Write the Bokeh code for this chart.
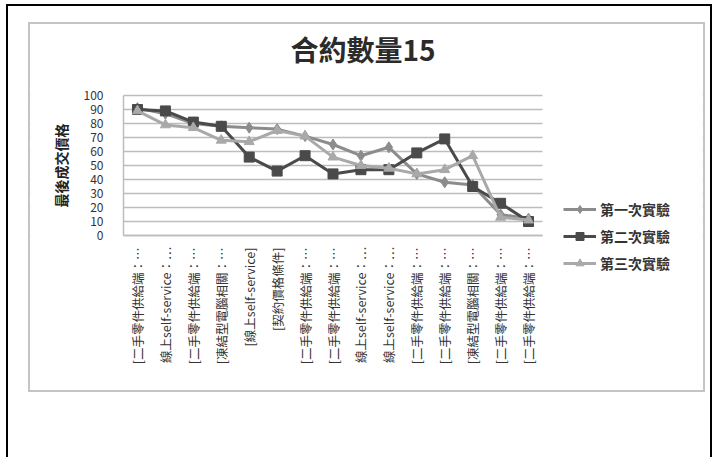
import math
from bokeh.plotting import figure
from bokeh.models import (Legend, LegendItem, FixedTicker, Range1d, Title, Label,
                          InlineStyleSheet, BoxAnnotation)
from bokeh.embed import file_html
from bokeh.resources import INLINE

# ---- data ----
categories = [
    "[二手零件供給端：…", "線上self-service：…", "[二手零件供給端：…", "[凍結型電腦相關：…",
    "[線上self-service]", "[契約價格條件]", "[二手零件供給端：…", "[二手零件供給端：…",
    "線上self-service：…", "線上self-service：…", "[二手零件供給端：…", "[二手零件供給端：…",
    "[凍結型電腦相關：…", "[二手零件供給端：…", "[二手零件供給端：…",
]
series_names = ["第一次實驗", "第二次實驗", "第三次實驗"]
s1 = [91, 87, 80, 78, 77, 76, 71, 65, 57, 63, 44, 38, 36, 15, 12]
s2 = [90, 89, 81, 78, 56, 46, 57, 44, 47, 47, 59, 69, 35, 23, 10]
s3 = [89, 79, 77, 68, 67, 75, 71, 56, 50, 48, 44, 47, 57, 13, 11]
y_ticks = [0, 10, 20, 30, 40, 50, 60, 70, 80, 90, 100]
title_text = "合約數量15"
y_title = "最後成交價格"

FONT = "Noto Sans CJK TC"
n = len(categories)
xs = list(range(1, n + 1))

# ---- layout in pixels ----
W, H = 713, 457
plot_left, plot_right = 123, 542      # category area
plot_top, plot_zero = 95, 235         # y=100 and y=0 lines
frame_left, frame_right, frame_top, frame_bottom = 30, 702, 85, 392
ytitle_px = 60
legend_left, legend_bottom = 563, 273

ppx = (plot_right - plot_left) / n
ppy = (plot_zero - plot_top) / 100.0
x_start = 0.5 - (plot_left - frame_left) / ppx
x_end = 0.5 + (frame_right - plot_left) / ppx
y_start = -(frame_bottom - plot_zero) / ppy
y_end = 100 + (plot_top - frame_top) / ppy

p = figure(width=W, height=H, x_range=Range1d(x_start, x_end),
           y_range=Range1d(y_start, y_end), output_backend="svg", toolbar_location=None,
           min_border_left=frame_left, min_border_right=W - frame_right,
           min_border_top=frame_top, min_border_bottom=H - frame_bottom)
p.background_fill_color = "white"
p.border_fill_color = "white"
p.outline_line_color = None

p.title = Title(text=title_text, align="left", offset=290 - frame_left, text_font=FONT,
                text_font_size="28px", text_font_style="bold", text_color="#2b2b2b",
                standoff=34)

p.xgrid.grid_line_color = None
p.ygrid.ticker = FixedTicker(ticks=y_ticks)
p.ygrid.grid_line_color = "#bdbdbd"
p.ygrid.grid_line_width = 1.5

# white covers so that the gridlines span only the category area
p.add_layout(BoxAnnotation(right=0.5, fill_color="white", fill_alpha=1,
                           line_color=None, level="underlay"))
p.add_layout(BoxAnnotation(left=n + 0.5, fill_color="white", fill_alpha=1,
                           line_color=None, level="underlay"))

p.yaxis.fixed_location = 0.5
p.yaxis.bounds = (0, 100)
p.yaxis.ticker = FixedTicker(ticks=y_ticks)
p.yaxis.axis_line_color = "#bdbdbd"
p.yaxis.axis_line_width = 1.5
p.yaxis.major_tick_line_color = None
p.yaxis.minor_tick_line_color = None
p.yaxis.major_label_text_font = FONT
p.yaxis.major_label_text_font_size = "12px"
p.yaxis.major_label_text_color = "#333333"
p.yaxis.major_label_standoff = 14

p.xaxis.fixed_location = 0
p.xaxis.bounds = (0.5, n + 0.5)
p.xaxis.ticker = FixedTicker(ticks=xs)
p.xaxis.major_label_overrides = {x: c for x, c in zip(xs, categories)}
p.xaxis.major_label_orientation = math.pi / 2
p.xaxis.axis_line_color = "#bdbdbd"
p.xaxis.axis_line_width = 1.5
p.xaxis.major_tick_line_color = None
p.xaxis.minor_tick_line_color = None
p.xaxis.major_label_text_font = FONT
p.xaxis.major_label_text_font_size = "12.5px"
p.xaxis.major_label_text_color = "#333333"
p.xaxis.major_label_standoff = 6

# y-axis title
p.add_layout(Label(x=0.5 - (plot_left - ytitle_px) / ppx, y=50, text=y_title,
                   angle=math.pi / 2, text_align="center", text_baseline="middle",
                   text_font=FONT, text_font_size="14px", text_font_style="bold",
                   text_color="#222222"))

colors = ["#8c8c8c", "#4a4a4a", "#a9a9a9"]
markers = ["diamond", "square", "triangle"]
sizes = [11, 10, 10]
items = []
for name, vals, col, mk, sz in zip(series_names, [s1, s2, s3], colors, markers, sizes):
    ln = p.line(xs, vals, line_color=col, line_width=3)
    sc = p.scatter(xs, vals, marker=mk, size=sz, fill_color=col, line_color=col)
    items.append(LegendItem(label=name, renderers=[ln, sc]))

legend = Legend(items=items, location=(legend_left - frame_left, frame_bottom - legend_bottom),
                orientation="vertical",
                label_text_font=FONT, label_text_font_size="14px",
                label_text_font_style="bold", label_text_color="#333333",
                glyph_width=33, glyph_height=20, spacing=7, label_standoff=4,
                border_line_color=None, background_fill_alpha=0, padding=4)
p.add_layout(legend, "center")

css = InlineStyleSheet(css="""
:host { position: relative; }
:host::before { content: ""; position: absolute; left: 28px; top: 22px; width: 677px; height: 370px;
  border: 2px solid #c4c4c4; box-sizing: border-box; pointer-events: none; z-index: 5; }
:host::after { content: ""; position: absolute; left: 6px; top: 4px; width: 706px; height: 453px;
  border-left: 2px solid #000; border-top: 2px solid #000; border-right: 2px solid #000;
  box-sizing: border-box; pointer-events: none; z-index: 5; }
""")
p.stylesheets = [css]

open("out.html", "w").write(file_html(p, INLINE))
